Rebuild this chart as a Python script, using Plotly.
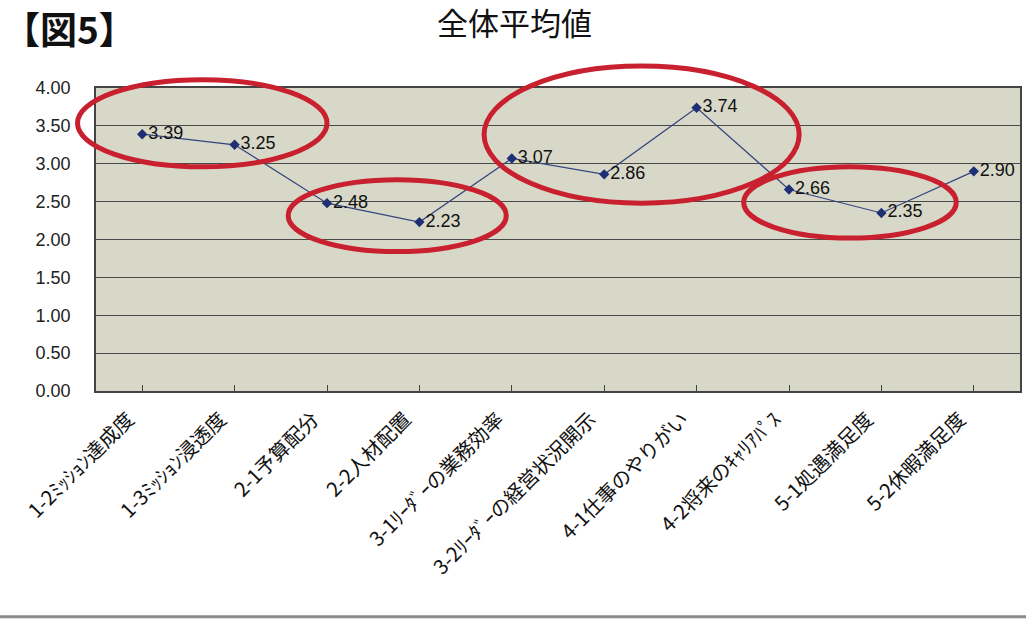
import plotly.graph_objects as go

# Survey items and overall average scores
categories = [
    "1-2ﾐｯｼｮﾝ達成度",
    "1-3ﾐｯｼｮﾝ浸透度",
    "2-1予算配分",
    "2-2人材配置",
    "3-1ﾘｰﾀﾞｰの業務効率",
    "3-2ﾘｰﾀﾞｰの経営状況開示",
    "4-1仕事のやりがい",
    "4-2将来のｷｬﾘｱﾊﾟｽ",
    "5-1処遇満足度",
    "5-2休暇満足度",
]
averages = [3.39, 3.25, 2.48, 2.23, 3.07, 2.86, 3.74, 2.66, 2.35, 2.90]
y_ticks = [0.0, 0.5, 1.0, 1.5, 2.0, 2.5, 3.0, 3.5, 4.0]

# Highlight rings: (first index, last index, low value, high value) in axis units
highlights = [
    (-0.70, 2.00, 2.96, 4.11),
    (1.58, 3.94, 1.84, 2.79),
    (3.70, 7.11, 2.48, 4.29),
    (6.51, 8.81, 2.02, 2.96),
]

JP = "Noto Sans CJK JP"
NUM = "Liberation Sans, Arial"

x_idx = list(range(len(categories)))
x_range = [-0.5, len(categories) - 0.5]
y_range = [0, 4]

fig = go.Figure()
fig.add_trace(go.Scatter(
    x=x_idx,
    y=averages,
    mode="lines+markers+text",
    line=dict(color="#34447e", width=1.2),
    marker=dict(symbol="diamond", size=8, color="#1e2f73"),
    text=[f"{v:.2f}" for v in averages],
    textposition="middle right",
    textfont=dict(family=NUM, size=18, color="#111111"),
    cliponaxis=False,
    showlegend=False,
))


def to_domain(v, rng):
    return (v - rng[0]) / (rng[1] - rng[0])


for x0, x1, y0, y1 in highlights:
    fig.add_shape(
        type="circle",
        xref="x domain", yref="y domain",
        x0=to_domain(x0, x_range), x1=to_domain(x1, x_range),
        y0=to_domain(y0, y_range), y1=to_domain(y1, y_range),
        line=dict(color="#c9202f", width=5),
        layer="above",
    )

# page rule along the bottom edge
fig.add_shape(type="line", xref="paper", yref="paper",
              x0=-0.11, x1=1.01, y0=-0.745, y1=-0.745,
              line=dict(color="#8a8a8a", width=3))

fig.add_annotation(text="全体平均値", xref="paper", yref="paper",
                   x=0.453, y=1.22, xanchor="center", yanchor="middle",
                   showarrow=False, font=dict(family=JP, size=31, color="#111111"))
fig.add_annotation(text="<b>【図5】</b>", xref="paper", yref="paper",
                   x=-0.103, y=1.198, xanchor="left", yanchor="middle",
                   showarrow=False, font=dict(family=JP, size=37, color="#111111"))

fig.update_xaxes(
    range=x_range,
    tickmode="array", tickvals=x_idx, ticktext=categories,
    tickangle=-45,
    tickfont=dict(family=JP, size=20, color="#111111"),
    ticklabelshift=-14, ticklabelstandoff=7,
    showgrid=False,
    showline=True, linecolor="#444444", linewidth=1.5, mirror=True,
    ticks="inside", ticklen=6, tickcolor="#444444", tickson="boundaries",
    zeroline=False,
)
fig.update_yaxes(
    range=y_range,
    tickmode="array", tickvals=y_ticks,
    ticktext=[f"{t:.2f}" for t in y_ticks],
    tickfont=dict(family=NUM, size=18, color="#222222"),
    showgrid=True, gridcolor="#4a4a4a", gridwidth=1,
    showline=True, linecolor="#444444", linewidth=1.5, mirror=True,
    zeroline=False, ticks="", ticklabelstandoff=20,
)

fig.update_layout(
    width=1026, height=620,
    margin=dict(l=96, r=4, t=88, b=229),
    paper_bgcolor="white",
    plot_bgcolor="#d8d8c8",
)

fig.write_html("out.html")
